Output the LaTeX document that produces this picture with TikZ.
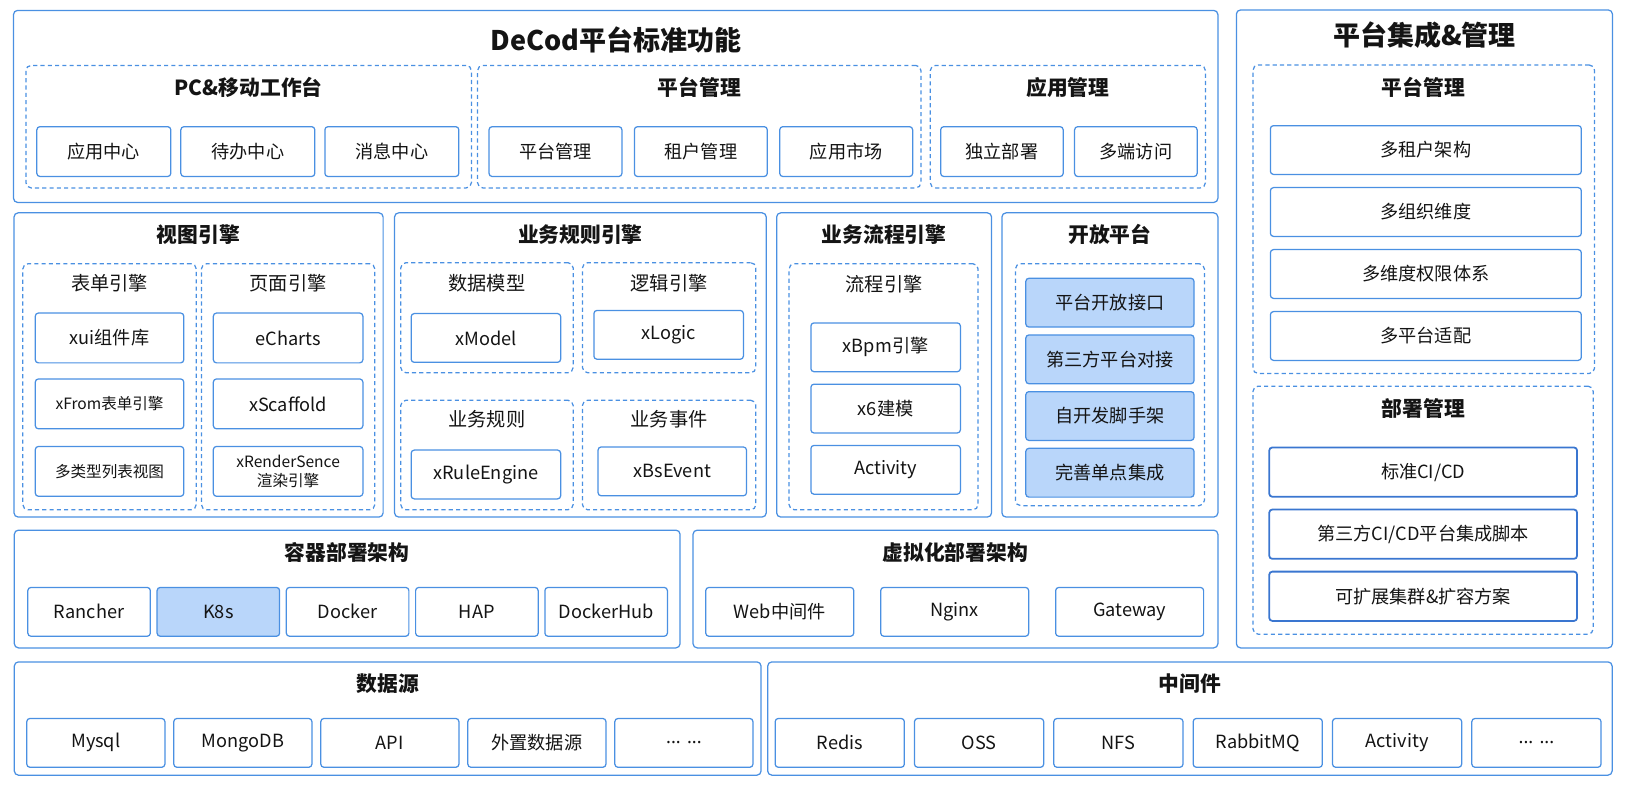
\documentclass[tikz,border=0pt]{standalone}
\usepackage{fontspec}
\setmainfont{Noto Sans CJK SC}
\newfontfamily\latinfont{Noto Sans}
\usepackage{xcolor}
\usetikzlibrary{fit,positioning}
\definecolor{blu}{RGB}{74,144,226}
\definecolor{dblu}{RGB}{58,118,208}
\definecolor{lblu}{RGB}{185,214,250}
\definecolor{ink}{RGB}{20,20,20}
\newcommand{\moredots}{{\latinfont ... ...}}
\tikzstyle{panel}=[draw=blu, line width=1.2pt, rounded corners=4pt, inner sep=0pt]
\tikzstyle{grp}=[draw=blu, line width=1.2pt, dash pattern=on 4pt off 3pt, rounded corners=5pt, inner sep=0pt]
\tikzstyle{cell}=[draw=blu, line width=1.2pt, rounded corners=3pt, fill=white, align=center,
		inner sep=0pt, text=ink, font=\fontsize{17.5}{20}\selectfont]
\tikzstyle{smallcell}=[cell, font=\fontsize{15}{18}\selectfont]
\tikzstyle{cellhl}=[cell, fill=lblu]
\tikzstyle{celldk}=[cell, draw=dblu, line width=1.7pt]
\tikzstyle{bigttl}=[text=ink, font=\bfseries\fontsize{26}{30}\selectfont]
\tikzstyle{ttl}=[text=ink, font=\bfseries\fontsize{20}{24}\selectfont]
\tikzstyle{subttl}=[text=ink, font=\fontsize{18.5}{22}\selectfont]

\begin{document}
\begin{tikzpicture}[x=1pt,y=-1pt]
\useasboundingbox (0,0) rectangle (1568,759);

% DeCod standard functions
\node (std) [panel, fit={(13,10) (1173,195)}] {};
\node (stdT) [bigttl] at (593,38) {DeCod平台标准功能};

\node (pc) [grp, fit={(25,63) (454,181)}] {};
\node (pcT) [ttl] at (239.5,84) {PC\&移动工作台};
\foreach \t [count=\i from 0] in {应用中心,待办中心,消息中心}
	\node (pc\i) [cell, minimum width=129pt, minimum height=48pt] at (100+138.7*\i,146) {\t};

\node (pm) [grp, fit={(460,63) (887,181)}] {};
\node (pmT) [ttl] at (673.5,84) {平台管理};
\foreach \t [count=\i from 0] in {平台管理,租户管理,应用市场}
	\node (pm\i) [cell, minimum width=128pt, minimum height=48pt] at (535+140*\i,146) {\t};

\node (am) [grp, fit={(896,63) (1161,181)}] {};
\node (amT) [ttl] at (1028.5,84) {应用管理};
\foreach \t [count=\i from 0] in {独立部署,多端访问}
	\node (am\i) [cell, minimum width=118pt, minimum height=48pt] at (965+129*\i,146) {\t};

% view engine
\node (vw) [panel, fit={(13.5,205) (369,498)}] {};
\node (vwT) [ttl] at (191,226) {视图引擎};
\node (fm) [grp, fit={(22,254) (189,491)}] {};
\node (fmT) [subttl] at (105.5,273) {表单引擎};
\node (fm0) [cell, minimum width=143pt, minimum height=48pt] at (105.5,325.5) {xui组件库};
\node (fm1) [smallcell, minimum width=143pt, minimum height=48pt] at (105.5,389) {xFrom表单引擎};
\node (fm2) [smallcell, minimum width=143pt, minimum height=48pt] at (105.5,454) {多类型列表视图};
\node (pg) [grp, fit={(194,254) (361,491)}] {};
\node (pgT) [subttl] at (277.5,273) {页面引擎};
\node (pg0) [cell, minimum width=144pt, minimum height=48pt] at (277.5,325.5) {eCharts};
\node (pg1) [cell, minimum width=144pt, minimum height=48pt] at (277.5,389) {xScaffold};
\node (pg2) [smallcell, minimum width=144pt, minimum height=48pt] at (277.5,454) {xRenderSence\\渲染引擎};

% business rule engine
\node (br) [panel, fit={(380,205) (738,498)}] {};
\node (brT) [ttl] at (559,226) {业务规则引擎};
\node (dm) [grp, fit={(386,253) (552,359)}] {};
\node (dmT) [subttl] at (469,273) {数据模型};
\node (dm0) [cell, minimum width=144pt, minimum height=47pt] at (468,325.5) {xModel};
\node (lg) [grp, fit={(561,253) (728,359)}] {};
\node (lgT) [subttl] at (644.5,273) {逻辑引擎};
\node (lg0) [cell, minimum width=144pt, minimum height=47pt] at (644,322.5) {xLogic};
\node (rl) [grp, fit={(386,385.5) (552,491)}] {};
\node (rlT) [subttl] at (469,404) {业务规则};
\node (rl0) [cell, minimum width=144pt, minimum height=47pt] at (468,457) {xRuleEngine};
\node (ev) [grp, fit={(561,385.5) (728,491)}] {};
\node (evT) [subttl] at (644.5,404) {业务事件};
\node (ev0) [cell, minimum width=143pt, minimum height=47pt] at (647.5,454) {xBsEvent};

% business process engine
\node (bp) [panel, fit={(748,205) (955,498)}] {};
\node (bpT) [ttl] at (851.5,226) {业务流程引擎};
\node (fl) [grp, fit={(760,254) (942,491)}] {};
\node (flT) [subttl] at (851.5,274) {流程引擎};
\foreach \t [count=\i from 0] in {xBpm引擎,x6建模,Activity}
	\node (fl\i) [cell, minimum width=144pt, minimum height=47pt] at (853,334.5+59*\i) {\t};

% open platform
\node (op) [panel, fit={(965,205) (1173,498)}] {};
\node (opT) [ttl] at (1069,226) {开放平台};
\node (og) [grp, fit={(978,254) (1160,487)}] {};
\foreach \t [count=\i from 0] in {平台开放接口,第三方平台对接,自开发脚手架,完善单点集成}
	\node (og\i) [cellhl, minimum width=162pt, minimum height=47pt] at (1069,291.5+54.6*\i) {\t};

% container deployment
\node (ct) [panel, fit={(13.8,510.6) (655,624)}] {};
\node (ctT) [ttl] at (334.4,532) {容器部署架构};
\foreach \t/\s [count=\i from 0] in {Rancher/cell,K8s/cellhl,Docker/cell,HAP/cell,DockerHub/cell}
	\node (ct\i) [\s, minimum width=118pt, minimum height=47pt] at (85.8+124.5*\i,589.3) {\t};

% virtualized deployment
\node (vt) [panel, fit={(667.5,510.6) (1173,624)}] {};
\node (vtT) [ttl] at (920,532) {虚拟化部署架构};
\foreach \t [count=\i from 0] in {Web中间件,Nginx,Gateway}
	\node (vt\i) [cell, minimum width=142.5pt, minimum height=47pt] at (751+168.5*\i,589.3) {\t};

% data sources
\node (ds) [panel, fit={(13.8,637.5) (733,746.6)}] {};
\node (dsT) [ttl] at (373.4,658) {数据源};
\foreach \t [count=\i from 0] in {Mysql,MongoDB,API,外置数据源,\moredots}
	\node (ds\i) [cell, minimum width=133pt, minimum height=47pt] at (92.3+141.6*\i,715.5) {\t};

% middleware
\node (mw) [panel, fit={(739.4,637.5) (1552.7,746.6)}] {};
\node (mwT) [ttl] at (1146,658) {中间件};
\foreach \t [count=\i from 0] in {Redis,OSS,NFS,RabbitMQ,Activity,\moredots}
	\node (mw\i) [cell, minimum width=124.4pt, minimum height=47pt] at (808.8+134.2*\i,715.5) {\t};

% integration & management
\node (ig) [panel, fit={(1190.8,9.6) (1553,624)}] {};
\node (igT) [bigttl] at (1372,34) {平台集成\&管理};
\node (pt) [grp, fit={(1206.8,62.6) (1535.7,359.7)}] {};
\node (ptT) [ttl] at (1371,84) {平台管理};
\foreach \t [count=\i from 0] in {多租户架构,多组织维度,多维度权限体系,多平台适配}
	\node (pt\i) [cell, minimum width=299.5pt, minimum height=47pt] at (1373.3,144.5+59.7*\i) {\t};
\node (dp) [grp, fit={(1206.8,371.9) (1534.4,610.8)}] {};
\node (dpT) [ttl] at (1371,393) {部署管理};
\foreach \t [count=\i from 0] in {标准CI/CD,第三方CI/CD平台集成脚本,可扩展集群\&扩容方案}
	\node (dp\i) [celldk, minimum width=296.5pt, minimum height=47.5pt] at (1370.7,454.7+59.8*\i) {\t};

\end{tikzpicture}
\end{document}
